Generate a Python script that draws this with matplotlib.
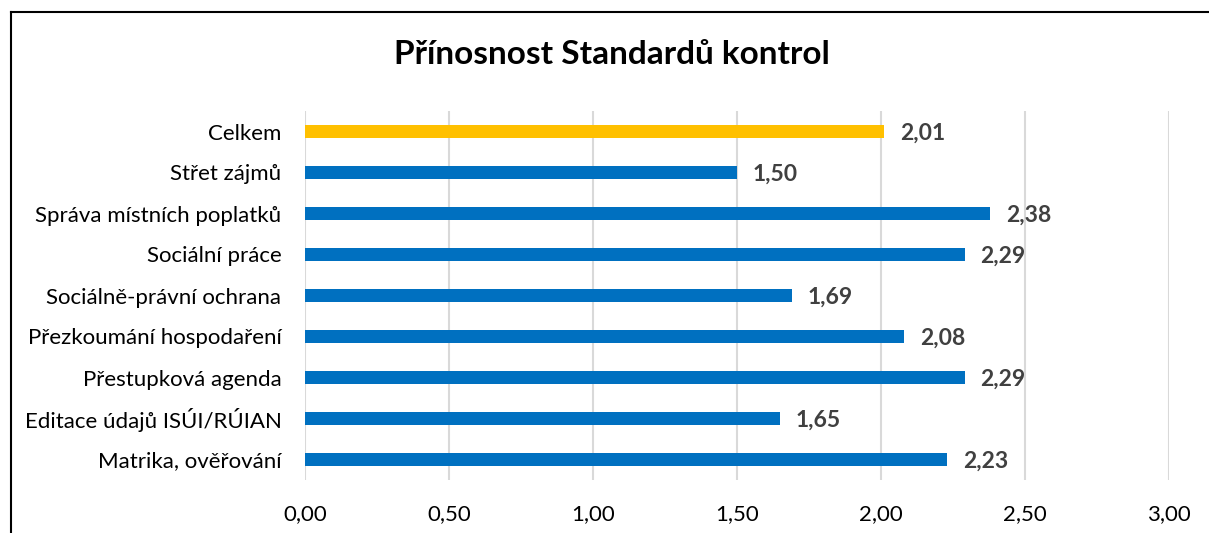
import matplotlib
matplotlib.use("Agg")
import matplotlib.pyplot as plt
from matplotlib.lines import Line2D
from matplotlib.ticker import FuncFormatter

categories = ["Celkem", "Střet zájmů", "Správa místních poplatků", "Sociální práce",
              "Sociálně-právní ochrana", "Přezkoumání hospodaření", "Přestupková agenda",
              "Editace údajů ISÚI/RÚIAN", "Matrika, ověřování"]
values = [2.01, 1.50, 2.38, 2.29, 1.69, 2.08, 2.29, 1.65, 2.23]
bar_colors = ["#FFC000"] + ["#0070C0"] * 8
x_ticks = [0, 0.5, 1.0, 1.5, 2.0, 2.5, 3.0]

plt.rcParams['font.family'] = ['Lato', 'DejaVu Sans']

fig = plt.figure(figsize=(12.09, 5.33), dpi=100)
ax = fig.add_axes([305 / 1209, 1 - 480 / 533, (1169 - 305) / 1209, (480 - 111) / 533])

y = list(range(len(categories)))
ax.barh(y, values, height=0.34, color=bar_colors, zorder=3)
ax.set_ylim(len(categories) - 0.5, -0.5)
ax.set_xlim(0, 3.0)
ax.set_yticks(y)
ax.set_yticklabels(categories, fontsize=16, color="#000000")
ax.set_xticks(x_ticks)
ax.xaxis.set_major_formatter(FuncFormatter(lambda v, p: f"{v:.2f}".replace(".", ",")))
ax.tick_params(axis="x", length=0, pad=17, labelsize=16, colors="#000000")
ax.tick_params(axis="y", length=0, pad=17)
ax.grid(axis="x", color="#D9D9D9", linewidth=1.5, zorder=0)
for s in ax.spines.values():
    s.set_visible(False)

for yi, v in zip(y, values):
    ax.text(v + 0.055, yi + 0.05, f"{v:.2f}".replace(".", ","), va="center", ha="left",
            fontsize=16.5, fontweight="bold", color="#404040")

fig.text(0.506, 1 - 55 / 533, "Přínosnost Standardů kontrol", ha="center", va="center",
         fontsize=24, fontweight="bold")

# chart border
fig.add_artist(Line2D([10.5 / 1209, 10.5 / 1209], [0, 1 - 12 / 533], transform=fig.transFigure,
                      color="black", linewidth=1.5))
fig.add_artist(Line2D([10.5 / 1209, 1], [1 - 12 / 533, 1 - 12 / 533], transform=fig.transFigure,
                      color="black", linewidth=1.5))

fig.savefig("out.png", dpi=100)
